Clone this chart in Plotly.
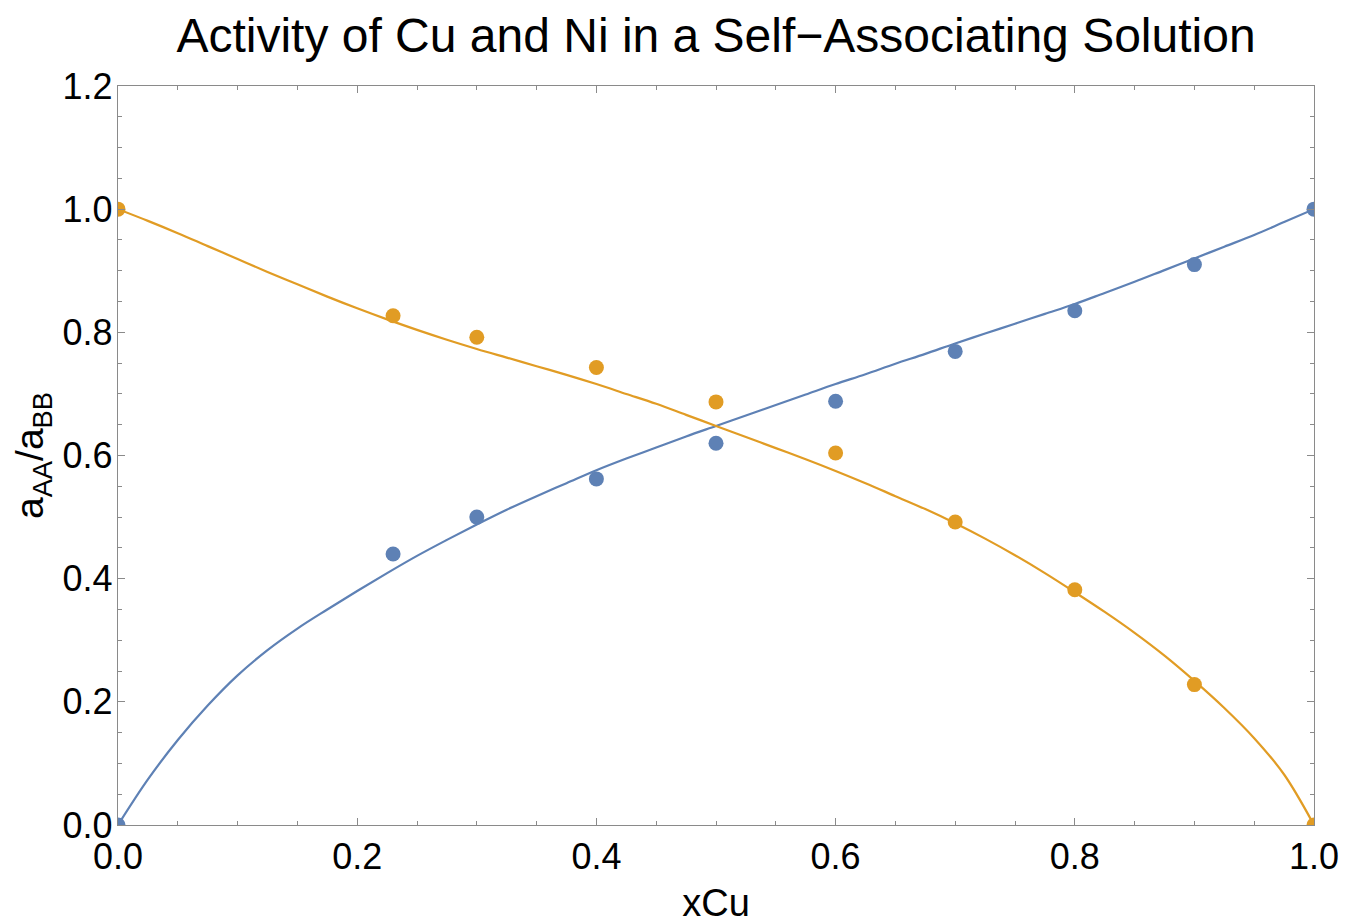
import plotly.graph_objects as go

# ---- data ----
x_points = [0.0, 0.23, 0.3, 0.4, 0.5, 0.6, 0.7, 0.8, 0.9, 1.0]
cu_points = [0.0, 0.440, 0.500, 0.562, 0.620, 0.688, 0.769, 0.835, 0.910, 1.0]
ni_points = [1.0, 0.827, 0.792, 0.743, 0.687, 0.604, 0.492, 0.382, 0.228, 0.0]

x_curve = [0.0, 0.025, 0.05, 0.075, 0.1, 0.125, 0.15, 0.175, 0.2, 0.225, 0.25, 0.275, 0.3, 0.325,
           0.35, 0.375, 0.4, 0.425, 0.45, 0.475, 0.5, 0.525, 0.55, 0.575, 0.6, 0.625, 0.65, 0.675,
           0.7, 0.725, 0.75, 0.775, 0.8, 0.825, 0.85, 0.875, 0.9, 0.925, 0.95, 0.975, 1.0]
cu_curve = [0.0, 0.074, 0.138, 0.194, 0.243, 0.284, 0.319, 0.350, 0.380, 0.409, 0.437, 0.463, 0.488, 0.512,
            0.534, 0.555, 0.576, 0.595, 0.613, 0.631, 0.648, 0.665, 0.682, 0.699, 0.716, 0.732, 0.749, 0.765,
            0.782, 0.798, 0.814, 0.830, 0.846, 0.864, 0.882, 0.901, 0.920, 0.939, 0.958, 0.979, 1.0]
ni_curve = [1.0, 0.981, 0.961, 0.940, 0.919, 0.898, 0.878, 0.858, 0.839, 0.821, 0.804, 0.788, 0.773, 0.759,
            0.745, 0.731, 0.716, 0.700, 0.684, 0.666, 0.648, 0.630, 0.612, 0.594, 0.575, 0.555, 0.534, 0.513,
            0.490, 0.465, 0.438, 0.409, 0.378, 0.346, 0.312, 0.275, 0.234, 0.190, 0.141, 0.082, 0.0]

tick_vals = [0.0, 0.2, 0.4, 0.6, 0.8, 1.0, 1.2]

BLUE = "#5E81B5"
ORANGE = "#E19C24"
FRAME = "#8a8a8a"
FONT = "Liberation Sans, Arial, sans-serif"

fig = go.Figure()
fig.add_trace(go.Scatter(x=x_curve, y=cu_curve, mode="lines", line=dict(color=BLUE, width=2.2, shape="spline"),
                         name="Cu model", showlegend=False))
fig.add_trace(go.Scatter(x=x_curve, y=ni_curve, mode="lines", line=dict(color=ORANGE, width=2.2, shape="spline"),
                         name="Ni model", showlegend=False))
fig.add_trace(go.Scatter(x=x_points, y=cu_points, mode="markers", marker=dict(color=BLUE, size=15),
                         name="Cu data", showlegend=False))
fig.add_trace(go.Scatter(x=x_points, y=ni_points, mode="markers", marker=dict(color=ORANGE, size=15),
                         name="Ni data", showlegend=False))

axis_common = dict(
    showgrid=False, zeroline=False, showline=True, linecolor=FRAME, linewidth=1.3,
    mirror="ticks", ticks="inside", ticklen=7, tickwidth=1, tickcolor=FRAME,
    tickfont=dict(family=FONT, size=36, color="black"),
    tickformat=".1f",
    minor=dict(ticks="inside", ticklen=4, tickwidth=1, tickcolor=FRAME, dtick=0.05, showgrid=False),
)

fig.update_xaxes(range=[0, 1], tickvals=tick_vals[:6], **axis_common,
                 title=dict(text="xCu", font=dict(family=FONT, size=38, color="black"), standoff=19))
fig.update_yaxes(range=[0, 1.2], tickvals=tick_vals, ticklabelstandoff=-3, **axis_common,
                 title=dict(text="a<sub>AA</sub>/a<sub>BB</sub>", font=dict(family=FONT, size=39, color="black"), standoff=6))

fig.update_layout(
    width=1348, height=924,
    margin=dict(l=118, r=34, t=86, b=99, autoexpand=False),
    paper_bgcolor="white", plot_bgcolor="white",
    title=dict(text="Activity of Cu and Ni in a Self\u2212Associating Solution",
               font=dict(family=FONT, size=48, color="black"),
               x=0.5, xref="paper", xanchor="center", y=1 - 35 / 924, yref="container", yanchor="middle"),
    showlegend=False,
)

fig.write_html("out.html")
